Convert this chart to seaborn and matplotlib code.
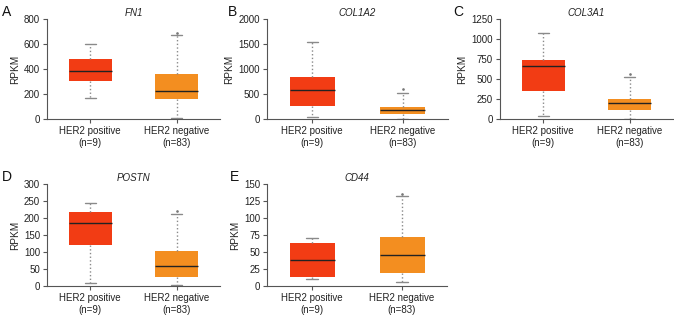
"""  HER2 positive vs negative expression boxplots  """
import matplotlib
matplotlib.use('Agg')
import matplotlib.pyplot as plt
import numpy as np
import pandas as pd
import seaborn as sns

# ~~~~~~~~~  Data (five-number summaries)  ~~~~~~~~~ #
groups = ['HER2 positive\n(n=9)', 'HER2 negative\n(n=83)']
genes = ['FN1', 'COL1A2', 'COL3A1', 'POSTN', 'CD44']
letters = ['A', 'B', 'C', 'D', 'E']

# [min, q1, median, q3, max] for positive / negative
fn1_pos = [172, 304, 386, 480, 600]
fn1_neg = [5, 157, 224, 360, 672]
col1a2_pos = [33, 260, 573, 847, 1535]
col1a2_neg = [4, 107, 180, 233, 527]
col3a1_pos = [42, 354, 658, 733, 1071]
col3a1_neg = [3, 112, 204, 250, 521]
postn_pos = [8, 120, 186, 217, 245]
postn_neg = [2, 26, 58, 102, 212]
cd44_pos = [10, 13, 38, 63, 70]
cd44_neg = [5.5, 19, 45, 72, 132]

# single outlier dot above the negative group whisker
outliers = [690, 593, 562, 221, 136]

ymax = [800, 2000, 1250, 300, 150]
ystep = [200, 500, 250, 50, 25]

summaries = [(fn1_pos, fn1_neg), (col1a2_pos, col1a2_neg), (col3a1_pos, col3a1_neg),
             (postn_pos, postn_neg), (cd44_pos, cd44_neg)]

colors = ['#F23C14', '#F38E20']

# axes boxes in pixels: left, right, top, bottom
W, H = 674, 316
boxes = [(47, 220, 19, 119), (267, 448, 19, 119), (500, 673, 19, 119),
         (47, 220, 184, 286), (267, 447, 184, 286)]
letter_pos = [(2, 12), (228, 12), (453, 12), (2, 177), (230, 177)]

sns.set_style('white')
plt.rcParams['font.family'] = ['Liberation Sans', 'DejaVu Sans']

fig = plt.figure(figsize=(W / 100, H / 100), dpi=100)

for i, (pos, neg) in enumerate(summaries):
    l, r, t, b = boxes[i]
    ax = fig.add_axes([l / W, 1 - b / H, (r - l) / W, (b - t) / H])
    df = pd.DataFrame({'group': [groups[0]] * 5 + [groups[1]] * 5,
                       'value': pos + neg})
    sns.boxplot(data=df, x='group', y='value', hue='group', palette=colors,
                order=groups, width=0.5, whis=(0, 100), legend=False, ax=ax,
                saturation=1,
                boxprops=dict(linewidth=0),
                whiskerprops=dict(color='#8a8a8a', linestyle=':', linewidth=1),
                capprops=dict(color='#8a8a8a', linewidth=1),
                medianprops=dict(color='#222222', linewidth=1))
    # caps half as wide as the box
    for cont in ax.containers:
        for cap in getattr(cont, 'caps', []):
            xs = np.asarray(cap.get_xdata(), dtype=float)
            mid = xs.mean()
            cap.set_xdata(mid + (xs - mid) * 0.5)
    ax.plot([1], [outliers[i]], marker='o', ms=0.9, color='#777777', linestyle='none')

    ax.set_xlim(-0.5, 1.5)
    ax.set_ylim(0, ymax[i])
    ax.set_yticks(np.arange(0, ymax[i] + 1, ystep[i]))
    ax.set_xlabel('')
    ax.set_ylabel('RPKM', fontsize=7.2, color='#222222', labelpad=3)
    ax.set_title(genes[i], fontsize=7, style='italic', color='#222222', pad=2)
    ax.tick_params(axis='both', labelsize=7, colors='#555555', labelcolor='#222222',
                   length=3, width=0.8, pad=2, left=True, bottom=True)
    sns.despine(ax=ax)
    for side in ['left', 'bottom']:
        ax.spines[side].set_color('#555555')
        ax.spines[side].set_linewidth(0.8)

    fig.text(letter_pos[i][0] / W, 1 - letter_pos[i][1] / H, letters[i],
             fontsize=10, va='center', ha='left', color='#111111')

fig.savefig('out.png', dpi=100)
